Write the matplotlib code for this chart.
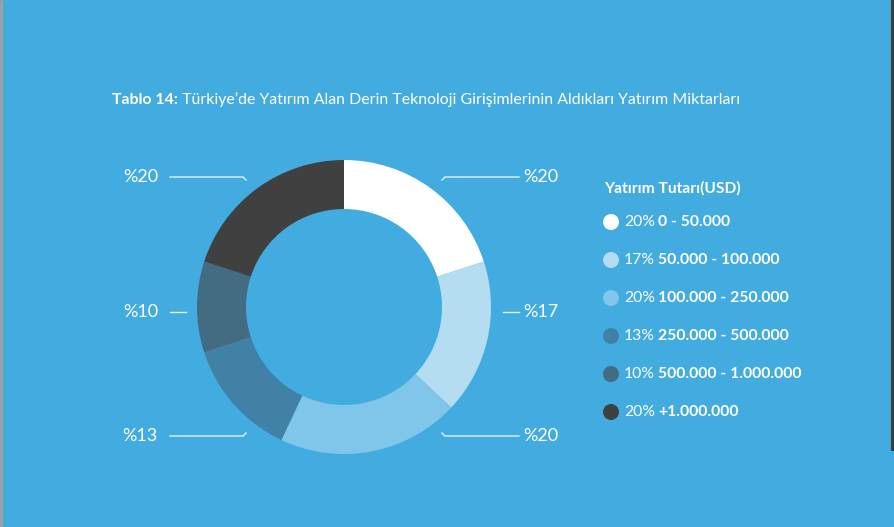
import matplotlib
matplotlib.use('Agg')
import matplotlib.pyplot as plt
from matplotlib.patches import Circle

plt.rcParams['font.family'] = ['Lato', 'DejaVu Sans']

# veri
dilimler = [20, 17, 20, 13, 10, 20]
araliklar = ['0 - 50.000', '50.000 - 100.000', '100.000 - 250.000',
             '250.000 - 500.000', '500.000 - 1.000.000', '+1.000.000']
renkler = ['#ffffff', '#b4ddf2', '#80c5ea', '#4281a6', '#436b81', '#404040']
etiketler = ['%20', '%17', '%20', '%13', '%10', '%20']
baslik_kalin = 'Tablo 14:'
baslik = " Türkiye’de Yatırım Alan Derin Teknoloji Girişimlerinin Aldıkları Yatırım Miktarları"
legend_baslik = 'Yatırım Tutarı(USD)'

W, H = 895, 527
ARKA = '#42ace1'
CIZGI = '#e6f3fb'

fig = plt.figure(figsize=(W / 100, H / 100), dpi=100, facecolor=ARKA)
ax = fig.add_axes([0, 0, 1, 1])
ax.set_facecolor(ARKA)

# pasta (y ekseni yukari, piksel y -> H - y)
cx, cy, R = 344, H - 307, 147
ax.pie(dilimler, colors=renkler, startangle=90, counterclock=False,
       center=(cx, cy), radius=R, wedgeprops=dict(width=49, linewidth=0))

ax.set_xlim(0, W)
ax.set_ylim(0, H)
ax.set_aspect('equal')
ax.axis('off')

# kenar cizgileri
ax.plot([1, 1], [0, H], color='#a0a0a0', lw=2.2, solid_capstyle='butt')
ax.plot([893.5, 893.5], [H - 451, H], color='#3d3d3d', lw=3, solid_capstyle='butt')

# etiketler ve kilavuz cizgileri (dilim sirasi ile)
yerlesim = [
    ('sag', 177, 'asagi'), ('sag', 312, None), ('sag', 436, 'yukari'),
    ('sol', 436, 'yukari'), ('sol', 312, None), ('sol', 177, 'asagi'),
]
for et, (taraf, py, kanca) in zip(etiketler, yerlesim):
    y = H - py
    if taraf == 'sag':
        if kanca:
            dy = -3 if kanca == 'asagi' else 3
            xs, ys = [442, 445, 519], [y + dy, y, y]
        else:
            xs, ys = [503, 519], [y, y]
        ax.plot(xs, ys, color=CIZGI, lw=1)
        ax.text(523, y, et, color='white', fontsize=13, ha='left', va='center')
    else:
        if kanca:
            dy = -3 if kanca == 'asagi' else 3
            xs, ys = [170, 243, 246], [y, y, y + dy]
        else:
            xs, ys = [170, 186], [y, y]
        ax.plot(xs, ys, color=CIZGI, lw=1)
        ax.text(158, y, et, color='white', fontsize=13, ha='right', va='center')

# baslik
t1 = ax.text(112, H - 100, baslik_kalin, color='white', fontsize=11.4,
             fontweight='bold', ha='left', va='center')
r = fig.canvas.get_renderer()
bb = t1.get_window_extent(renderer=r)
ax.text(bb.x1, H - 100, baslik, color='white', fontsize=11.4,
        ha='left', va='center')

# legend
ax.text(604, H - 188, legend_baslik, color='white', fontsize=11.2,
        fontweight='bold', ha='left', va='center')
for i, (p, a, c) in enumerate(zip(dilimler, araliklar, renkler)):
    y = H - (222 + 38 * i)
    ax.add_patch(Circle((611, y), 8, color=c, lw=0))
    ax.text(655, y, f'{p}%', color='white', fontsize=11.3, ha='right', va='center')
    ax.text(658, y, a, color='white', fontsize=11.3, fontweight='bold',
            ha='left', va='center')

fig.savefig('out.png', dpi=100, facecolor=ARKA)
